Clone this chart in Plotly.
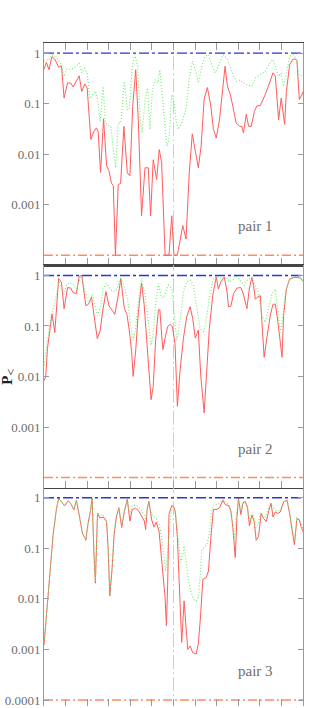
import numpy as np
import plotly.graph_objects as go

# ---------------- data (x: sequence position 0..120, y: log10 of P) -------------
p1_red_x = [0, 1.1, 2.3, 3.7, 5.0, 6.8, 8.1, 9.3, 10.9, 12.3, 13.5, 16.3, 17.5, 18.9, 20.0, 21.7, 23.1, 24.3, 25.1, 26.2,
            27.6, 29.0, 30.1, 31.3, 32.1, 33.1, 34.4, 35.5, 37.0, 38.6, 39.8, 41.1, 42.5, 43.7, 45.2, 46.8, 48.3, 49.4,
            50.6, 52.2, 53.4, 54.5, 56.1, 57.9, 59.2, 60.2, 61.8, 64.3, 65.8, 67.3, 68.7, 70.3, 71.5, 72.8, 74.2, 75.7,
            77.3, 78.5, 79.8, 81.3, 82.9, 83.9, 85.0, 86.3, 87.5, 89.0, 90.6, 91.7, 92.4, 93.7, 94.8, 96.0, 97.5, 98.7,
            100.2, 102.5, 104.5, 106.1, 107.2, 108.7, 109.9, 111.5, 112.3, 113.8, 115.4, 116.6, 117.2, 118.3, 119.6, 120.0]
p1_red_log10p = [-0.32, -0.18, -0.33, -0.07, -0.12, -0.28, -0.25, -0.89, -0.59, -0.59, -0.67, -0.45, -0.76, -0.61, -0.69,
                 -1.71, -1.55, -1.48, -1.55, -2.36, -1.30, -2.23, -2.33, -2.58, -2.62, -4.0, -2.60, -2.58, -1.45, -2.37,
                 -2.43, -1.05, -0.33, -1.33, -3.22, -2.27, -2.27, -3.22, -2.11, -2.5, -1.91, -2.17, -4.0, -4.0, -3.22,
                 -4.0, -4.0, -3.41, -3.68, -2.37, -1.6, -1.97, -2.27, -1.84, -0.91, -0.68, -1.05, -1.51, -1.68, -1.32,
                 -0.66, -0.26, -0.66, -0.82, -1.05, -1.38, -1.45, -1.45, -1.58, -1.21, -1.45, -1.45, -1.15, -1.04, -1.04,
                 -0.82, -0.59, -0.39, -0.46, -1.32, -0.89, -1.41, -0.76, -0.23, -0.12, -0.12, -0.15, -0.92, -0.82, -0.76]

p1_green_x = [0, 1.1, 2.3, 3.7, 5.0, 6.5, 8.1, 9.3, 10.4, 12.7, 15.0, 16.3, 17.5, 18.9, 20.0, 21.2, 22.8, 23.8, 24.8, 26.0,
              27.4, 28.5, 29.7, 31.0, 32.1, 33.2, 34.4, 35.6, 37.2, 38.6, 39.5, 40.9, 42.1, 43.4, 44.5, 45.5, 46.8, 48.0,
              49.1, 50.2, 51.4, 52.7, 53.7, 55.3, 56.9, 57.9, 59.2, 60.4, 61.2, 62.2, 63.8, 65.8, 67.3, 68.9, 70.5, 71.5,
              73.1, 74.6, 76.2, 77.8, 79.3, 80.8, 82.9, 84.7, 86.3, 87.8, 89.4, 90.9, 92.4, 94.0, 96.3, 97.9, 100.2,
              102.5, 104.5, 106.1, 107.6, 108.7, 109.8, 111.0, 112.6, 113.8, 115.4, 116.8, 118.0, 120.0]
p1_green_log10p = [-0.16, -0.13, -0.14, -0.03, -0.07, -0.13, -0.23, -0.46, -0.32, -0.32, -0.26, -0.2, -0.39, -0.3, -0.39,
                   -0.9, -0.8, -0.75, -0.9, -1.35, -0.66, -1.38, -1.43, -1.45, -1.91, -2.27, -1.38, -1.38, -0.56, -1.12,
                   -1.12, -0.26, -0.03, -0.26, -1.25, -1.58, -0.92, -0.69, -1.51, -0.76, -0.53, -0.59, -0.33, -1.05,
                   -1.84, -1.71, -0.82, -0.99, -1.32, -1.51, -1.38, -1.12, -0.49, -0.16, -0.39, -0.59, -0.26, -0.07,
                   -0.03, -0.23, -0.39, -0.26, -0.03, -0.1, -0.26, -0.46, -0.56, -0.53, -0.59, -0.63, -0.66, -0.49,
                   -0.43, -0.36, -0.2, -0.13, -0.33, -0.46, -0.39, -0.66, -0.33, -0.07, -0.03, -0.1, -0.43, -0.46]

p2_red_x = [0, 0.8, 1.6, 2.6, 3.7, 5.0, 5.8, 6.8, 8.1, 9.3, 10.9, 12.4, 13.5, 15.0, 16.3, 17.5, 19.4, 20.6, 22.0, 23.2,
            24.7, 26.0, 27.0, 28.7, 30.1, 31.6, 32.8, 34.4, 35.6, 37.2, 38.4, 39.5, 40.6, 41.3, 42.5, 43.7, 45.2, 46.4,
            47.6, 48.6, 49.6, 50.6, 51.7, 53.0, 53.7, 54.5, 55.1, 56.1, 57.3, 58.4, 59.5, 60.7, 61.8, 63.0, 64.6, 66.1,
            67.7, 68.9, 70.1, 71.5, 72.6, 74.2, 75.4, 76.6, 78.2, 79.8, 80.8, 81.9, 83.5, 84.7, 85.5, 86.6, 87.8, 89.4,
            91.2, 92.4, 94.0, 95.1, 96.3, 97.1, 97.9, 98.9, 100.2, 101.0, 102.0, 103.3, 104.8, 106.1, 107.2, 108.4,
            109.5, 110.3, 111.0, 112.3, 113.8, 115.7, 117.5, 119.1, 120.0]
p2_red_log10p = [-2.08, -2.01, -1.45, -1.09, -0.76, -1.13, -0.63, -0.06, -0.14, -0.66, -0.24, -0.25, -0.34, -0.36, -0.02,
                 0.0, -0.6, -0.57, -0.43, -0.8, -1.25, -1.1, -0.76, -0.32, -0.6, -0.69, -0.77, -0.39, -0.07, -0.65,
                 -0.77, -1.08, -1.51, -2.0, -1.48, -0.74, -0.15, -0.58, -1.24, -1.9, -2.46, -2.2, -1.3, -0.68, -0.68,
                 -1.18, -1.47, -1.24, -1.01, -0.97, -1.01, -1.35, -2.59, -1.9, -1.24, -0.82, -0.62, -0.85, -1.24, -1.08,
                 -1.97, -2.72, -1.9, -1.05, -0.39, -0.03, -0.27, -0.13, -0.03, -0.29, -0.62, -0.61, -0.36, -0.25, -0.24,
                 -0.37, -0.66, -0.27, -0.04, -0.2, -0.47, -0.43, -0.4, -1.06, -1.62, -1.22, -0.8, -0.57, -0.57, -0.93,
                 -1.32, -1.62, -0.8, -0.27, -0.07, -0.04, -0.04, -0.06, -0.12]

p2_green_x = [0, 1.1, 2.3, 3.4, 4.6, 5.8, 7.0, 8.1, 9.3, 10.4, 11.9, 13.5, 15.0, 16.3, 17.5, 18.9, 20.0, 21.2, 22.5, 23.6,
              24.8, 26.3, 27.4, 29.0, 30.5, 32.1, 33.6, 35.6, 37.2, 38.7, 39.9, 41.3, 42.5, 43.7, 45.2, 46.8, 48.3, 49.6,
              50.6, 51.7, 53.0, 54.2, 55.3, 56.4, 57.6, 59.2, 59.9, 61.5, 63.0, 64.6, 66.1, 67.7, 69.2, 70.8, 72.3, 73.9,
              75.1, 76.6, 78.2, 79.8, 81.3, 82.9, 84.4, 85.9, 87.5, 89.0, 90.9, 92.8, 94.3, 96.3, 97.9, 99.4, 101.0,
              102.5, 104.0, 105.6, 107.2, 108.2, 109.5, 110.7, 111.8, 113.3, 115.7, 118.0, 120.0]
p2_green_log10p = [-1.78, -1.45, -0.99, -0.76, -0.63, -0.34, -0.11, -0.24, -0.37, -0.2, -0.14, -0.17, -0.27, -0.11, -0.01,
                   -0.27, -0.47, -0.53, -0.37, -0.6, -0.79, -0.59, -0.26, -0.16, -0.26, -0.32, -0.29, -0.03, -0.26,
                   -0.45, -0.91, -1.28, -1.05, -0.52, -0.06, -0.39, -0.91, -1.38, -1.14, -0.59, -0.16, -0.39, -0.45,
                   -0.32, -0.19, -0.26, -0.59, -1.28, -0.91, -0.32, -0.13, -0.09, -0.19, -0.59, -1.05, -1.11, -0.91,
                   -0.45, -0.09, -0.01, -0.03, -0.09, -0.03, -0.13, -0.09, 0.0, -0.1, -0.2, -0.08, -0.04, -0.2, -0.34,
                   -0.8, -0.93, -0.66, -0.37, -0.27, -0.63, -1.13, -0.8, -0.34, -0.11, -0.04, -0.02, -0.1]

p3_red_x = [0, 1.1, 2.6, 4.2, 5.8, 6.8, 8.1, 9.6, 11.1, 12.4, 13.8, 15.0, 16.3, 17.8, 19.4, 20.3, 21.6, 22.3, 23.1, 23.8,
            24.8, 25.9, 27.4, 29.0, 29.7, 30.5, 31.6, 32.5, 33.6, 34.7, 36.0, 37.2, 38.6, 39.8, 40.9, 42.5, 43.7, 45.2,
            46.5, 47.1, 47.8, 48.6, 49.9, 51.0, 52.0, 53.3, 54.2, 55.3, 56.1, 56.7, 57.3, 57.9, 59.2, 60.4, 60.9, 61.8,
            62.7, 63.8, 64.9, 65.8, 66.6, 67.7, 68.9, 70.5, 71.5, 72.6, 73.6, 75.1, 76.2, 77.3, 78.5, 80.1, 81.3, 82.9,
            83.9, 85.5, 86.6, 87.5, 88.6, 89.4, 90.1, 91.2, 92.2, 93.2, 94.3, 95.2, 96.3, 97.4, 98.3, 99.4, 100.6,
            101.7, 103.0, 104.0, 105.2, 106.1, 107.2, 108.4, 109.5, 111.0, 112.6, 113.8, 114.9, 116.0, 117.2, 118.3,
            119.1, 120.0]
p3_red_log10p = [-2.91, -2.38, -1.66, -0.74, -0.21, -0.01, -0.08, -0.16, -0.06, -0.11, -0.24, -0.05, -0.34, -0.7, -0.84,
                 -0.54, -0.24, -0.01, -1.07, -1.69, -0.31, -0.4, -0.38, -0.47, -1.0, -1.94, -1.38, -0.72, -0.36, -0.2,
                 -0.59, -0.28, -0.03, -0.46, -0.23, -0.21, -0.25, -0.36, -0.46, -0.63, -0.23, -0.07, -0.44, -0.58,
                 -0.48, -0.66, -1.05, -1.51, -1.97, -2.53, -1.71, -0.33, -0.15, -0.2, -0.3, -0.79, -1.71, -2.86, -2.04,
                 -2.5, -3.0, -2.93, -3.06, -3.09, -2.89, -2.3, -1.61, -1.58, -1.45, -0.79, -0.23, -0.23, -0.2, -0.05,
                 -0.13, -0.16, -0.26, -0.59, -1.18, -0.39, -0.01, -0.33, -0.1, -0.07, -0.2, -0.56, -0.34, -0.47, -0.84,
                 -0.77, -0.31, -0.41, -0.47, -0.28, -0.11, -0.38, -0.28, -0.31, -0.28, -0.08, -0.05, -0.31, -0.61,
                 -0.93, -0.41, -0.44, -0.57, -0.67]

p3_green_x = [0, 1.1, 2.6, 4.2, 5.8, 6.8, 8.1, 9.6, 11.1, 12.4, 13.8, 15.0, 16.3, 17.8, 19.4, 20.3, 21.6, 22.3, 23.1,
              23.8, 24.8, 25.9, 27.4, 29.0, 29.7, 30.5, 31.6, 32.5, 33.6, 34.7, 36.0, 37.2, 38.6, 39.8, 40.9, 42.5,
              43.7, 45.2, 46.5, 47.1, 47.8, 48.6, 49.9, 52.0, 53.3, 54.2, 55.3, 56.4, 57.6, 59.2, 60.4, 61.2, 62.2,
              63.3, 64.3, 64.9, 65.8, 66.9, 68.0, 69.2, 70.5, 71.5, 72.3, 73.1, 74.2, 75.4, 76.6, 77.7, 78.8, 80.4,
              81.6, 82.9, 84.4, 85.9, 87.2, 88.1, 89.0, 90.1, 91.2, 92.2, 93.2, 94.3, 95.2, 96.3, 97.4, 97.9, 99.4,
              100.2, 102.5, 104.8, 107.2, 109.5, 111.0, 112.6, 113.8, 114.9, 116.0, 117.2, 118.3, 120.0]
p3_green_log10p = [-2.91, -2.38, -1.66, -0.74, -0.21, -0.01, -0.08, -0.16, -0.06, -0.11, -0.24, -0.05, -0.34, -0.7,
                   -0.84, -0.54, -0.24, -0.01, -1.05, -1.65, -0.3, -0.34, -0.33, -0.43, -0.95, -1.9, -1.33, -0.68,
                   -0.34, -0.18, -0.55, -0.25, -0.03, -0.33, -0.15, -0.15, -0.17, -0.25, -0.35, -0.45, -0.2, -0.07,
                   -0.33, -0.42, -0.52, -0.7, -1.05, -1.45, -0.89, -0.16, -0.2, -0.39, -0.79, -1.28, -1.12, -0.95,
                   -1.25, -1.64, -1.84, -2.01, -2.04, -1.97, -1.58, -1.02, -0.99, -0.92, -0.72, -0.26, -0.13, -0.13,
                   -0.1, -0.03, -0.1, -0.16, -0.46, -0.82, -0.36, -0.03, -0.26, -0.1, -0.07, -0.16, -0.46, -0.3, -0.4,
                   -0.62, -0.5, -0.31, -0.38, -0.11, -0.24, -0.26, -0.08, -0.05, -0.28, -0.54, -0.87, -0.39, -0.42,
                   -0.62]

panel_labels = ["pair 1", "pair 2", "pair 3"]
x_range = [0, 120]
event_x = 60
upper_ref_p = 1.0
lower_ref_p = 1e-4
y_tick_values = [1, 0.1, 0.01, 0.001, 0.0001]
y_tick_labels = ["1", "0.1", "0.01", "0.001", "0.0001"]

# ---------------- styling ----------------
RED = "#ff5c5c"
GREEN = "#66ee66"
BLUE = "#2b35d6"
ORANGE = "#ff8a66"
CYAN = "#8ee8ec"
FRAME_DARK = "#444444"
FRAME_GRAY = "#9a9a9a"
TEXT_GRAY = "#6e6e6e"
FONT = "Liberation Serif"

panels = [
    (p1_red_x, p1_red_log10p, p1_green_x, p1_green_log10p),
    (p2_red_x, p2_red_log10p, p2_green_x, p2_green_log10p),
    (p3_red_x, p3_red_log10p, p3_green_x, p3_green_log10p),
]

W, H = 319, 708
M_L, M_R, M_T, M_B = 44, 16, 43, 0
plot_h = H - M_T - M_B  # 665
# panel pixel heights: 223, 223, 219 (bottom panel runs off the page)
domains = [[442 / plot_h, 1.0], [219 / plot_h, 442 / plot_h], [0.0, 219 / plot_h]]
y_ranges = [[-4.2, 0.2], [-4.2, 0.2], [-4.118, 0.2]]
label_y = [0.179, 0.175, 0.162]

fig = go.Figure()

for i, (rx, rl, gx, gl) in enumerate(panels):
    xa = "x" if i == 0 else f"x{i+1}"
    ya = "y" if i == 0 else f"y{i+1}"
    fig.add_trace(go.Scatter(x=x_range, y=[lower_ref_p, lower_ref_p], mode="lines", xaxis=xa, yaxis=ya,
                             line=dict(color=ORANGE, width=1.4, dash="9px,3px,2px,3px"), hoverinfo="skip"))
    fig.add_trace(go.Scatter(x=[event_x, event_x], y=[1e-6, 10], mode="lines", xaxis=xa, yaxis=ya,
                             line=dict(color=CYAN, width=1, dash="14px,3px,2px,3px"), hoverinfo="skip"))
    fig.add_trace(go.Scatter(x=rx, y=list(np.power(10.0, rl)), mode="lines", xaxis=xa, yaxis=ya,
                             line=dict(color=RED, width=1)))
    fig.add_trace(go.Scatter(x=gx, y=list(np.power(10.0, gl)), mode="lines", xaxis=xa, yaxis=ya,
                             line=dict(color=GREEN, width=1.1, dash="1px,2px")))
    fig.add_trace(go.Scatter(x=x_range, y=[upper_ref_p, upper_ref_p], mode="lines", xaxis=xa, yaxis=ya,
                             line=dict(color=BLUE, width=1.4, dash="10px,3px,3px,3px"), hoverinfo="skip"))

    if i < 2:
        tv, tt = y_tick_values[:4], y_tick_labels[:4]
    else:
        tv, tt = y_tick_values, y_tick_labels

    xkey = "xaxis" if i == 0 else f"xaxis{i+1}"
    ykey = "yaxis" if i == 0 else f"yaxis{i+1}"
    xdict = dict(domain=[0, 1], range=x_range, anchor=ya, showgrid=False, zeroline=False,
                 showticklabels=False, ticks="inside", ticklen=7, tickcolor=FRAME_GRAY, tickwidth=1,
                 tick0=0, dtick=10, linecolor=FRAME_DARK, linewidth=1.2)
    if i == 0:
        xdict.update(showline=True, mirror="ticks")
    elif i == 1:
        xdict.update(showline=True, mirror=True)
    else:
        xdict.update(showline=False)
    fig.update_layout({xkey: xdict})
    fig.update_layout({ykey: dict(domain=domains[i], type="log", range=y_ranges[i], anchor=xa,
                                  showgrid=False, zeroline=False, showline=True, mirror="ticks",
                                  linecolor=FRAME_GRAY, linewidth=1, ticks="inside", ticklen=5,
                                  tickcolor=FRAME_GRAY, tickvals=tv, ticktext=tt,
                                  ticklabeloverflow="allow",
                                  tickfont=dict(family=FONT, size=13, color=TEXT_GRAY))})
    fig.add_annotation(text=panel_labels[i], xref=f"{xa} domain", yref=f"{ya} domain",
                       x=0.815, y=label_y[i], xanchor="center", yanchor="middle", showarrow=False,
                       font=dict(family=FONT, size=15, color=TEXT_GRAY))

# y-axis title
fig.add_annotation(text="<b>P</b><sub><span style='font-size:12px'>&lt;</span></sub>", xref="paper", yref="paper",
                   x=-0.138, y=0.497, xanchor="center", yanchor="middle", showarrow=False, textangle=-90,
                   font=dict(family=FONT, size=15, color="#222222"))

fig.update_layout(width=W, height=H, autosize=False, showlegend=False,
                  margin=dict(l=M_L, r=M_R, t=M_T, b=M_B, pad=0),
                  paper_bgcolor="white", plot_bgcolor="white")

fig.write_html("out.html", config={"displayModeBar": False, "staticPlot": True},
               post_script="document.body.style.margin='0px';")
